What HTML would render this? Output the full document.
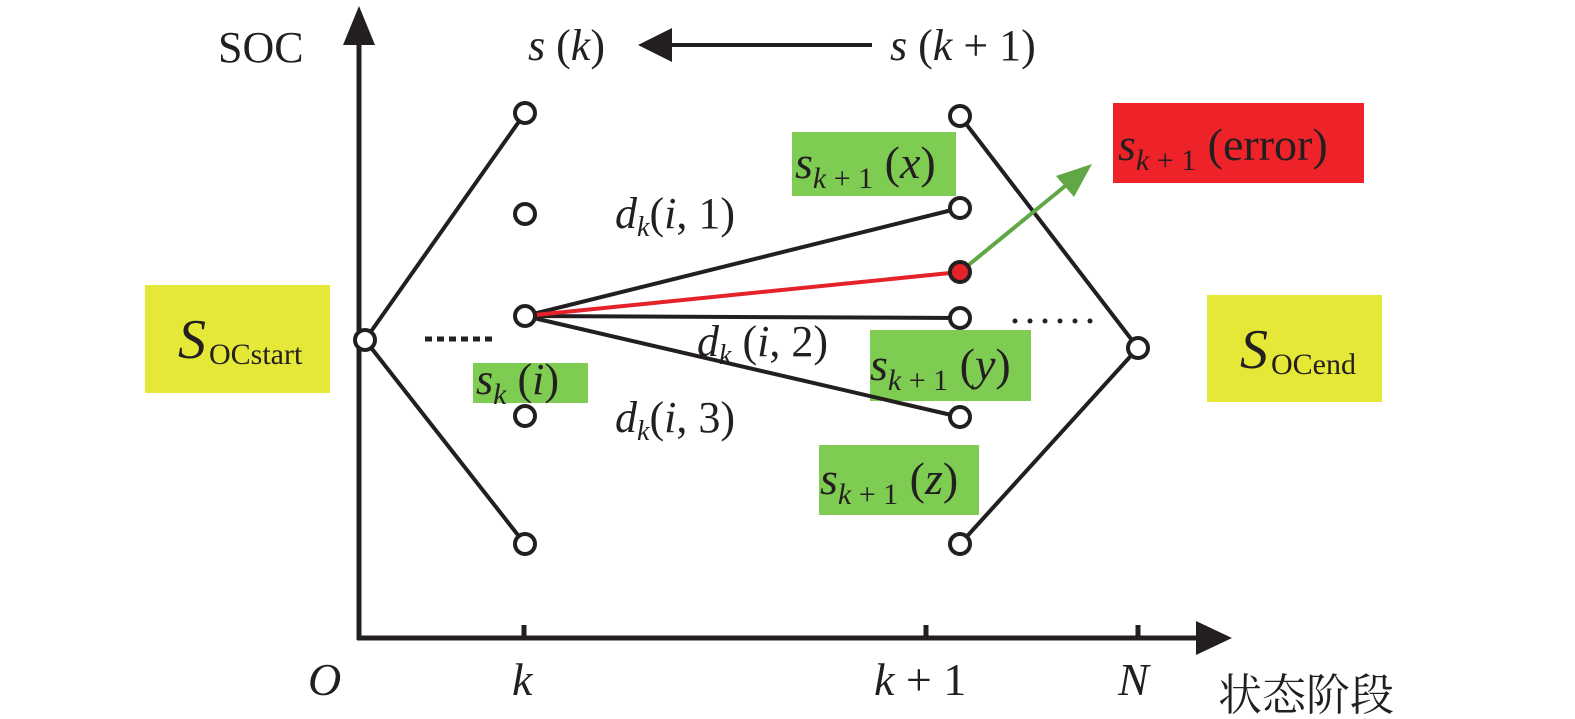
<!DOCTYPE html>
<html><head><meta charset="utf-8"><style>
html,body{margin:0;padding:0;background:#fff;}
svg{display:block;}
text{font-family:"Liberation Serif","Times New Roman",serif;fill:#231f20;}
.c{font-family:"Noto Serif CJK SC","Noto Sans CJK SC",serif;}
.i{font-style:italic;}
</style></head><body>
<svg width="1575" height="719" viewBox="0 0 1575 719" xmlns="http://www.w3.org/2000/svg">
<rect x="145" y="285" width="185" height="108" fill="#e5e836"/>
<rect x="1207" y="295" width="175" height="107" fill="#e5e836"/>
<rect x="473" y="363" width="115" height="40" fill="#7fcc52"/>
<rect x="792" y="132" width="164" height="64" fill="#7fcc52"/>
<rect x="870" y="330" width="161" height="71" fill="#7fcc52"/>
<rect x="819" y="445" width="160" height="70" fill="#7fcc52"/>
<rect x="1113" y="103" width="251" height="80" fill="#ee2329"/>
<g stroke="#231f20" stroke-width="5" fill="none">
<line x1="359" y1="40" x2="359" y2="640"/>
<line x1="357" y1="638" x2="1200" y2="638"/>
<line x1="524" y1="625" x2="524" y2="638"/>
<line x1="926" y1="625" x2="926" y2="638"/>
<line x1="1138" y1="625" x2="1138" y2="638"/>
</g>
<polygon points="359,6 343,45 375,45" fill="#231f20"/>
<polygon points="1232,638 1196,621 1196,655" fill="#231f20"/>
<line x1="872" y1="45" x2="665" y2="45" stroke="#231f20" stroke-width="4"/>
<polygon points="638,45 672,28 672,62" fill="#231f20"/>
<g stroke="#231f20" stroke-width="4" fill="none">
<line x1="365" y1="340" x2="525" y2="113"/>
<line x1="365" y1="340" x2="525" y2="544"/>
<line x1="960" y1="116" x2="1138" y2="348"/>
<line x1="960" y1="544" x2="1138" y2="348"/>
<line x1="525" y1="316" x2="960" y2="208"/>
<line x1="525" y1="316" x2="960" y2="318"/>
<line x1="525" y1="316" x2="960" y2="417"/>
</g>
<line x1="525" y1="316" x2="960" y2="272" stroke="#e42229" stroke-width="4"/>
<line x1="960" y1="272" x2="1070" y2="182" stroke="#5fa845" stroke-width="4"/>
<polygon points="1092,164 1056,176 1074,197" fill="#5fa845"/>
<line x1="425" y1="339" x2="492" y2="339" stroke="#231f20" stroke-width="5" stroke-dasharray="7,5"/>
<line x1="1015" y1="321" x2="1105" y2="321" stroke="#231f20" stroke-width="5" stroke-linecap="round" stroke-dasharray="0,15"/>
<g stroke="#231f20" stroke-width="4" fill="#fff">
<circle cx="365" cy="340" r="10"/>
<circle cx="525" cy="113" r="10"/>
<circle cx="525" cy="214" r="10"/>
<circle cx="525" cy="316" r="10"/>
<circle cx="525" cy="416" r="10"/>
<circle cx="525" cy="544" r="10"/>
<circle cx="960" cy="116" r="10"/>
<circle cx="960" cy="208" r="10"/>
<circle cx="960" cy="272" r="10" fill="#e42229"/>
<circle cx="960" cy="318" r="10"/>
<circle cx="960" cy="417" r="10"/>
<circle cx="960" cy="544" r="10"/>
<circle cx="1138" cy="348" r="10"/>
</g>
<text x="218" y="62" font-size="44">SOC</text>
<text x="528" y="60" font-size="44"><tspan class="i">s</tspan> (<tspan class="i">k</tspan>)</text>
<text x="890" y="60" font-size="44"><tspan class="i">s</tspan> (<tspan class="i">k</tspan> + 1)</text>
<text x="178" y="358" font-size="56" class="i">S</text><text x="209" y="364" font-size="30">OCstart</text>
<text x="1240" y="368" font-size="56" class="i">S</text><text x="1271" y="374" font-size="30">OCend</text>
<text x="476" y="394" font-size="44"><tspan class="i">s</tspan><tspan class="i" font-size="30" dy="10">k</tspan><tspan dy="-10"> (</tspan><tspan class="i">i</tspan>)</text>
<text x="795" y="178" font-size="46"><tspan class="i">s</tspan><tspan font-size="30" dy="10"><tspan class="i">k</tspan> + 1</tspan><tspan dy="-10"> (</tspan><tspan class="i">x</tspan>)</text>
<text x="870" y="380" font-size="46"><tspan class="i">s</tspan><tspan font-size="30" dy="10"><tspan class="i">k</tspan> + 1</tspan><tspan dy="-10"> (</tspan><tspan class="i">y</tspan>)</text>
<text x="820" y="494" font-size="46"><tspan class="i">s</tspan><tspan font-size="30" dy="10"><tspan class="i">k</tspan> + 1</tspan><tspan dy="-10"> (</tspan><tspan class="i">z</tspan>)</text>
<text x="1118" y="160" font-size="46"><tspan class="i">s</tspan><tspan font-size="30" dy="10"><tspan class="i">k</tspan> + 1</tspan><tspan dy="-10"> (error)</tspan></text>
<text x="615" y="228" font-size="44"><tspan class="i">d</tspan><tspan class="i" font-size="28" dy="8">k</tspan><tspan dy="-8">(</tspan><tspan class="i">i</tspan>, 1)</text>
<text x="697" y="356" font-size="44"><tspan class="i">d</tspan><tspan class="i" font-size="28" dy="8">k</tspan><tspan dy="-8"> (</tspan><tspan class="i">i</tspan>, 2)</text>
<text x="615" y="432" font-size="44"><tspan class="i">d</tspan><tspan class="i" font-size="28" dy="8">k</tspan><tspan dy="-8">(</tspan><tspan class="i">i</tspan>, 3)</text>
<text x="308" y="695" font-size="46" class="i">O</text>
<text x="512" y="695" font-size="46" class="i">k</text>
<text x="874" y="695" font-size="46"><tspan class="i">k</tspan> + 1</text>
<text x="1118" y="695" font-size="46" class="i">N</text>
<text x="1218" y="710" font-size="44" class="c">状态阶段</text>
</svg>
</body></html>
